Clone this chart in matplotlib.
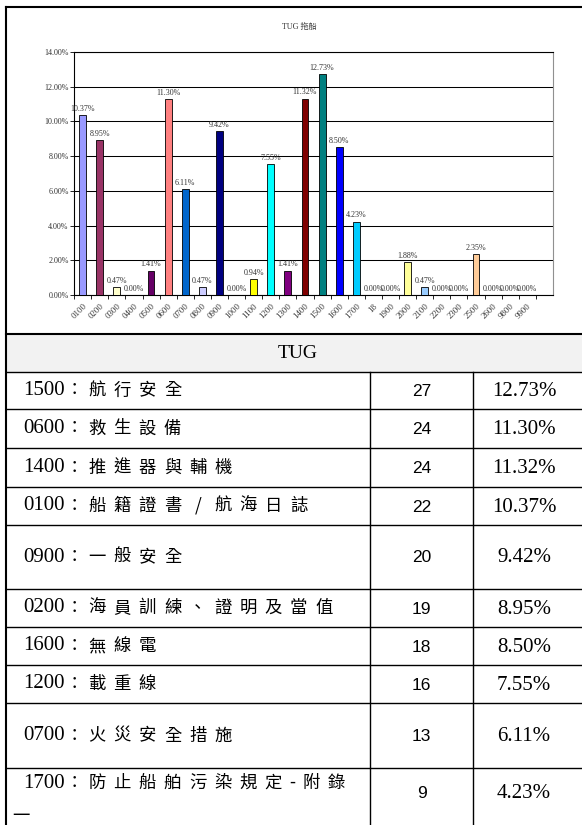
import matplotlib

matplotlib.use("Agg")
import matplotlib.pyplot as plt
import numpy as np
from matplotlib.patches import Rectangle

# bar chart: share of deficiencies per code
codes = ["0100", "0200", "0300", "0400", "0500", "0600", "0700", "0800", "0900",
         "1000", "1100", "1200", "1300", "1400", "1500", "1600", "1700", "18",
         "1900", "2000", "2100", "2200", "2300", "2500", "2600", "9800", "9900"]
shares = [10.37, 8.95, 0.47, 0.00, 1.41, 11.30, 6.11, 0.47, 9.42,
          0.00, 0.94, 7.55, 1.41, 11.32, 12.73, 8.50, 4.23, 0.00,
          0.00, 1.88, 0.47, 0.00, 0.00, 2.35, 0.00, 0.00, 0.00]
bar_colors = ["#9999FF", "#993366", "#FFFFCC", "#CCFFFF", "#660066", "#FF8080",
              "#0066CC", "#CCCCFF", "#000080", "#FF00FF", "#FFFF00", "#00FFFF",
              "#800080", "#800000", "#008080", "#0000FF", "#00CCFF", "#CCFFFF",
              "#CCFFCC", "#FFFF99", "#99CCFF", "#FF99CC", "#CC99FF", "#FFCC99",
              "#3366FF", "#33CCCC", "#99CC00"]

# table below the chart
table_title = "TUG"
row_codes = ["1500", "0600", "1400", "0100", "0900", "0200", "1600", "1200", "0700", "1700"]
row_names = ["航行安全", "救生設備", "推進器與輔機", "船籍證書 / 航海日誌", "一般安全",
             "海員訓練、證明及當值", "無線電", "載重線", "火災安全措施", "防止船舶污染規定-附錄一"]
row_counts = [27, 24, 24, 22, 20, 19, 18, 16, 13, 9]
row_shares = [12.73, 11.30, 11.32, 10.37, 9.42, 8.95, 8.50, 7.55, 6.11, 4.23]

W, H = 582, 825
SERIF = ["Liberation Serif", "Noto Sans CJK TC"]
CJK = ["Noto Sans CJK TC", "Liberation Serif"]

fig = plt.figure(figsize=(W / 100, H / 100), dpi=100)
fig.patch.set_facecolor("white")

# pixel-space layer for the frame and table
bg = fig.add_axes([0, 0, 1, 1])
bg.set_xlim(0, W)
bg.set_ylim(H, 0)
bg.axis("off")

frame_x = 6
col1, col2 = 370, 473
row_edges = [334, 372, 409, 448, 487, 525, 589, 627, 665, 703, 768, 816]

bg.add_patch(Rectangle((frame_x, row_edges[0]), W, row_edges[1] - row_edges[0],
                       facecolor="#f2f2f2", edgecolor="none"))
thick, thin = 1.5, 1.0
bg.plot([frame_x, W], [7, 7], color="black", lw=thick)
bg.plot([frame_x, frame_x], [7, H], color="black", lw=thick)
bg.plot([frame_x, W], [row_edges[0], row_edges[0]], color="black", lw=thick)
for y in row_edges[1:-1]:
    bg.plot([frame_x, W], [y, y], color="black", lw=thin)
for x in (col1, col2):
    bg.plot([x, x], [row_edges[1], H], color="black", lw=thin)

bg.text((frame_x + W) / 2 + 4, (row_edges[0] + row_edges[1]) / 2, table_title,
        ha="center", va="center", fontsize=14, family=SERIF)

code_x = 23
colon_x = 74
name_x0 = 84.4
pitch = 25.2
limit = col1 - 10
wrap_x = 8
line_h = 33


def layout_name(text):
    # place each glyph on a fixed grid, wrapping back to the left margin
    lines = [[]]
    x = name_x0
    for ch in text:
        if ch == " ":
            adv = pitch * 0.25
        elif ord(ch) < 0x2E80:
            adv = pitch * 0.5
        else:
            adv = pitch
        if x + adv > limit:
            lines.append([])
            x = wrap_x
        lines[-1].append((ch, x + adv / 2))
        x += adv
    return lines


for i, (code, name, cnt, pct) in enumerate(zip(row_codes, row_names, row_counts, row_shares)):
    top, bot = row_edges[i + 1], row_edges[i + 2]
    yc = (top + bot) / 2
    lines = layout_name(name)
    y0 = yc if len(lines) == 1 else top + 15
    bg.text(code_x, y0, code, ha="left", va="center", fontsize=15, family=SERIF)
    bg.text(colon_x, y0, "：", ha="center", va="center", fontsize=12.5, family=CJK)
    for k, line in enumerate(lines):
        for ch, cx in line:
            if ch == " ":
                continue
            bg.text(cx, y0 + k * line_h, ch, ha="center", va="center",
                    fontsize=12.5, family=CJK)
    bg.text((col1 + col2) / 2, yc + 1, str(cnt), ha="center", va="center",
            fontsize=12.5, family="Liberation Sans")
    bg.text(524, yc + 1, f"{pct:.2f}%", ha="center", va="center",
            fontsize=15, family=SERIF)

# chart
ax = fig.add_axes([74.1 / W, (H - 295) / H, (553 - 74.1) / W, (295 - 52) / H])
ax.set_facecolor("white")
xs = np.arange(len(codes))
bars = ax.bar(xs, shares, width=0.4, color=bar_colors[:len(codes)],
              edgecolor="black", linewidth=0.6, zorder=3)
ax.bar_label(bars, labels=[f"{v:.2f}%" for v in shares], padding=1.5,
             fontsize=5.8, family=SERIF, color="#333333")

ax.set_xlim(-0.5, len(codes) + 0.5)
ax.set_ylim(0, 14)
ax.set_yticks(np.arange(0, 15, 2))
ax.set_yticklabels([f"{v:.2f}%" for v in np.arange(0, 15, 2)], fontsize=5.8,
                   family=SERIF, color="#333333")
ax.yaxis.grid(True, color="black", lw=0.75)
ax.set_axisbelow(True)

ax.set_xticks(xs)
ax.set_xticklabels(codes, rotation=45, ha="right", va="top", rotation_mode="anchor",
                   fontsize=6.3, family=SERIF, color="#333333")
ax.set_xticks(np.arange(-0.5, len(codes)), minor=True)
ax.tick_params(axis="x", which="major", length=0, pad=5)
ax.tick_params(axis="x", which="minor", length=3, width=0.6, direction="out")
ax.tick_params(axis="y", length=3, width=0.6, pad=1)

for side in ("left", "bottom", "top"):
    ax.spines[side].set_color("black")
    ax.spines[side].set_linewidth(0.8)
ax.spines["right"].set_color("#909090")
ax.spines["right"].set_linewidth(0.8)

fig.text(299 / W, 1 - 27 / H, "TUG 拖船", ha="center", va="center", fontsize=5.8,
         family=SERIF, color="#333333")

fig.savefig("out.png", dpi=100)
